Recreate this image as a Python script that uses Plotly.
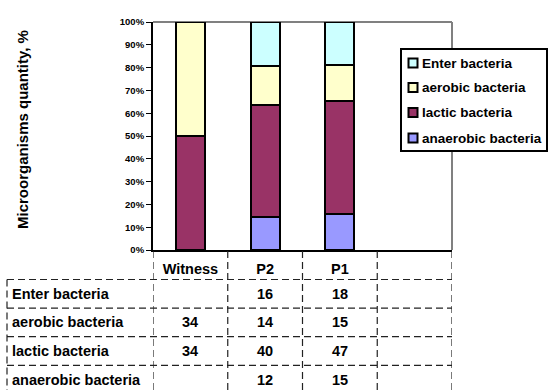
import plotly.graph_objects as go

# ---- data -------------------------------------------------------------
categories = ["Witness", "P2", "P1"]
n_columns = 4  # the last table column stays empty

series_names = ["Enter bacteria", "aerobic bacteria", "lactic bacteria", "anaerobic bacteria"]
enter_bacteria = [None, 16, 18]
aerobic_bacteria = [34, 14, 15]
lactic_bacteria = [34, 40, 47]
anaerobic_bacteria = [None, 12, 15]
series_colors = ["#CCFFFF", "#FFFFCC", "#993366", "#9999FF"]

y_ticks = list(range(0, 101, 10))
y_tick_labels = [f"{v}%" for v in y_ticks]
y_title = "Microorganisms quantity, %"

series_values = [enter_bacteria, aerobic_bacteria, lactic_bacteria, anaerobic_bacteria]

# ---- figure geometry (pixels) -----------------------------------------
W, H = 549, 390
L, R, T, B = 153, 97, 22, 140
PW, PH = W - L - R, H - T - B
FONT = "Liberation Sans, Arial, sans-serif"


def px_x(x):
    return (x - L) / PW


def px_y(y):
    return (H - B - y) / PH


fig = go.Figure()

x_pos = list(range(len(categories)))
# stacked from the bottom: anaerobic, lactic, aerobic, enter
for name, vals, col in reversed(list(zip(series_names, series_values, series_colors))):
    fig.add_trace(go.Bar(
        x=x_pos, y=vals, name=name, width=0.39,
        marker=dict(color=col, line=dict(color="black", width=2)),
        showlegend=False,
    ))

shapes = []
annotations = []

# plot-area frame: grey top and right edges
shapes.append(dict(type="line", xref="paper", yref="paper", x0=0, x1=1, y0=1, y1=1,
                   line=dict(color="#808080", width=2), layer="below"))
shapes.append(dict(type="line", xref="paper", yref="paper", x0=1, x1=1, y0=0, y1=1,
                   line=dict(color="#808080", width=2), layer="below"))

# ---- data table under the plot ----------------------------------------
dash = dict(color="#222222", width=1.2, dash="7px,4px")
row_top = 279.5
row_h = 28.6
table_bottom = 394
# column separators (including category row)
for k in range(n_columns + 1):
    shapes.append(dict(type="line", xref="x", yref="paper", x0=k - 0.5, x1=k - 0.5,
                       y0=px_y(251), y1=px_y(table_bottom), line=dash))
# left edge of row-label column
shapes.append(dict(type="line", xref="paper", yref="paper", x0=px_x(7), x1=px_x(7),
                   y0=px_y(row_top), y1=px_y(table_bottom), line=dash))
# row separators
for r in range(len(series_names)):
    yy = px_y(row_top + r * row_h)
    shapes.append(dict(type="line", xref="paper", yref="paper", x0=px_x(7), x1=1,
                       y0=yy, y1=yy, line=dash))

table_font = dict(family=FONT, size=14.5, color="black", weight="bold")
for r, (name, vals) in enumerate(zip(series_names, series_values)):
    yc = px_y(row_top + (r + 0.5) * row_h)
    annotations.append(dict(text=name, xref="paper", yref="paper", x=px_x(10), y=yc,
                            xanchor="left", yanchor="middle", showarrow=False, font=table_font))
    for c, v in enumerate(vals):
        if v is None:
            continue
        annotations.append(dict(text=str(v), xref="x", yref="paper", x=c, y=yc,
                                xanchor="center", yanchor="middle", showarrow=False,
                                font=table_font))

# ---- legend box ---------------------------------------------------------
shapes.append(dict(type="rect", xref="paper", yref="paper", x0=px_x(401), x1=px_x(547),
                   y0=px_y(151), y1=px_y(49), fillcolor="white",
                   line=dict(color="black", width=2)))
legend_rows = [63, 87.5, 112.5, 138]
for name, col, yc in zip(series_names, series_colors, legend_rows):
    shapes.append(dict(type="rect", xref="paper", yref="paper", x0=px_x(408.5), x1=px_x(417.5),
                       y0=px_y(yc + 4.5), y1=px_y(yc - 4.5), fillcolor=col,
                       line=dict(color="black", width=2)))
    annotations.append(dict(text=name, xref="paper", yref="paper", x=px_x(420), y=px_y(yc),
                            xanchor="left", yanchor="middle", showarrow=False,
                            font=dict(family=FONT, size=13.5, color="black", weight="bold")))

# y axis title
annotations.append(dict(text=y_title, xref="paper", yref="paper", x=px_x(22), y=px_y(130),
                        xanchor="center", yanchor="middle", textangle=-90, showarrow=False,
                        font=dict(family=FONT, size=15, color="black", weight="bold")))

fig.update_layout(
    width=W, height=H,
    margin=dict(l=L, r=R, t=T, b=B, pad=0),
    barmode="stack", barnorm="percent",
    paper_bgcolor="white", plot_bgcolor="white",
    font=dict(family=FONT, color="black"),
    showlegend=False,
    shapes=shapes, annotations=annotations,
    xaxis=dict(range=[-0.5, n_columns - 0.5], tickvals=x_pos, ticktext=categories,
               showgrid=False, zeroline=False, showline=True, linecolor="black", linewidth=2,
               ticks="", ticklabelstandoff=5,
               tickfont=dict(family=FONT, size=14.5, color="black", weight="bold"),
               fixedrange=True),
    yaxis=dict(range=[0, 100], tickvals=y_ticks, ticktext=y_tick_labels,
               showgrid=False, zeroline=False, showline=True, linecolor="black", linewidth=2,
               ticks="outside", ticklen=5, tickwidth=1, tickcolor="black",
               tickfont=dict(family=FONT, size=9.5, color="black", weight="bold"),
               fixedrange=True),
)

fig.write_html("out.html")
